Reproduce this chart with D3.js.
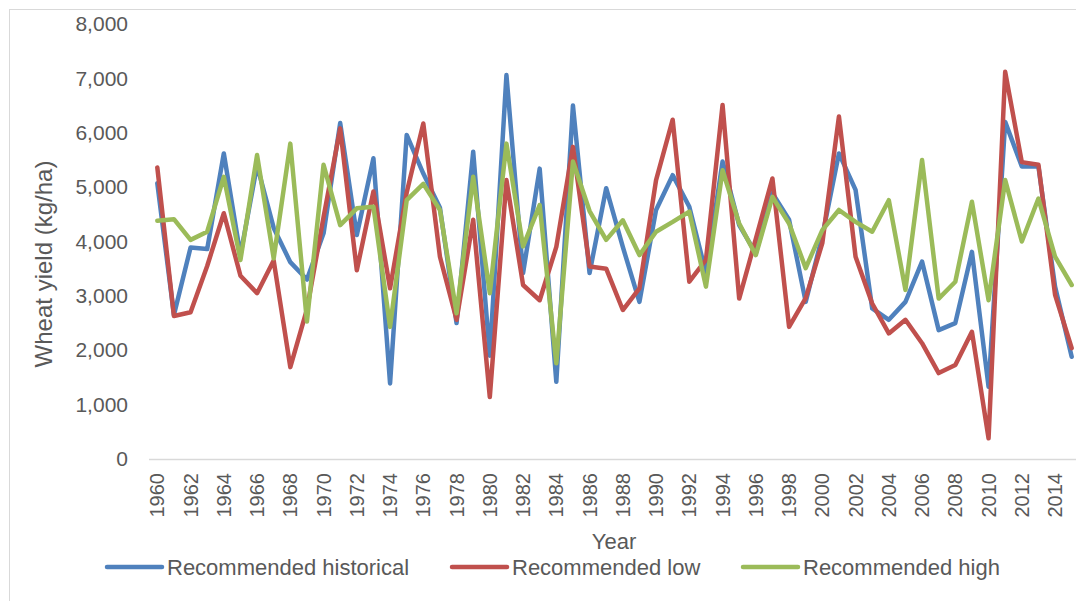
<!DOCTYPE html>
<html>
<head>
<meta charset="utf-8">
<script src="https://cdn.jsdelivr.net/npm/d3@7"></script>
<style>
  html, body { margin: 0; padding: 0; background: #ffffff; }
  svg { display: block; font-family: "Liberation Sans", Arial, sans-serif; }
</style>
</head>
<body>
<svg id="chart" width="1076" height="601"></svg>
<script>
const years = d3.range(1960, 2016);
const historical = [5070, 2650, 3890, 3860, 5620, 3750, 5400, 4250, 3620, 3300,
  4150, 6180, 4120, 5530, 1390, 5960, 5250, 4620, 2500, 5650,
  1900, 7060, 3420, 5340, 1420, 6500, 3420, 4980, 3900, 2890,
  4580, 5220, 4640, 3420, 5470, 4300, 3780, 4890, 4400, 2890,
  4100, 5620, 4950, 2770, 2560, 2890, 3630, 2370, 2500, 3810,
  1330, 6200, 5380, 5380, 3170, 1880];
const low = [5360, 2630, 2700, 3550, 4520, 3370, 3050, 3650, 1690, 2750,
  4450, 6080, 3470, 4920, 3140, 4900, 6170, 3720, 2560, 4400,
  1140, 5130, 3200, 2920, 3900, 5740, 3540, 3500, 2740, 3140,
  5130, 6240, 3260, 3660, 6510, 2950, 4050, 5160, 2430, 2960,
  3970, 6300, 3720, 2860, 2310, 2560, 2130, 1580, 1730, 2340,
  380, 7120, 5460, 5410, 3020, 2040];
const high = [4380, 4410, 4030, 4180, 5190, 3660, 5590, 3690, 5800, 2530,
  5410, 4300, 4610, 4640, 2430, 4760, 5060, 4580, 2680, 5190,
  3050, 5800, 3910, 4670, 1760, 5470, 4560, 4030, 4390, 3750,
  4180, 4360, 4550, 3170, 5310, 4330, 3750, 4820, 4330, 3510,
  4210, 4580, 4360, 4180, 4760, 3110, 5500, 2950, 3260, 4730,
  2920, 5130, 4000, 4790, 3720, 3200];
const seriesNames = ["Recommended historical", "Recommended low", "Recommended high"];
const seriesColors = ["#4f81bd", "#c0504d", "#9bbb59"];
const yTicks = [0, 1000, 2000, 3000, 4000, 5000, 6000, 7000, 8000];
const xTickYears = years.filter(y => (y - 1960) % 2 === 0);

const svg = d3.select("#chart");
const textColor = "#595959";
const fontStack = "'Liberation Sans', Arial, sans-serif";

// chart border (right and bottom edges fall outside the picture)
svg.append("rect").attr("x", 9.5).attr("y", 9.5).attr("width", 1100).attr("height", 620)
  .attr("fill", "none").attr("stroke", "#d9d9d9").attr("stroke-width", 1);

const x = d3.scaleBand().domain(years).range([149, 1080]);
const y = d3.scaleLinear().domain([0, 8000]).range([459, 24]);
const cx = d => x(d) + x.bandwidth() / 2;

// y axis (labels only)
const yAxis = svg.append("g").attr("transform", "translate(128,0)")
  .call(d3.axisLeft(y).tickValues(yTicks).tickSize(0).tickPadding(0).tickFormat(d3.format(",")));
yAxis.select(".domain").remove();
yAxis.selectAll("text").attr("fill", textColor).style("font-size", "21px")
  .style("font-family", fontStack);

// x axis line
svg.append("line").attr("x1", 149).attr("x2", 1080).attr("y1", 459.5).attr("y2", 459.5)
  .attr("stroke", "#d9d9d9").attr("stroke-width", 1.5);

// x axis labels
const xAxis = svg.append("g").attr("transform", "translate(0,459)")
  .call(d3.axisBottom(x).tickValues(xTickYears).tickSize(0).tickPadding(0));
xAxis.select(".domain").remove();
xAxis.selectAll("text")
  .attr("fill", textColor).style("font-size", "20px")
  .style("font-family", fontStack)
  .attr("text-anchor", "end")
  .attr("transform", "rotate(-90)")
  .attr("x", -14).attr("y", 0).attr("dy", "0.35em");

// axis titles
svg.append("text").attr("x", 614).attr("y", 549).attr("text-anchor", "middle")
  .attr("fill", textColor).style("font-size", "22px").text("Year");
svg.append("text").attr("transform", "translate(52,264) rotate(-90)").attr("text-anchor", "middle")
  .attr("fill", textColor).style("font-size", "24px").text("Wheat yield (kg/ha)");

// lines
const data = [historical, low, high];
const line = d3.line().x((d, i) => cx(years[i])).y(d => y(d));
data.forEach((vals, k) => {
  svg.append("path").datum(vals).attr("d", line)
    .attr("fill", "none").attr("stroke", seriesColors[k]).attr("stroke-width", 4.5)
    .attr("stroke-linejoin", "round").attr("stroke-linecap", "round");
});

// legend
const legendX = [107, 452, 743];
seriesNames.forEach((name, k) => {
  const g = svg.append("g").attr("transform", "translate(" + legendX[k] + ",567)");
  g.append("line").attr("x1", 0).attr("x2", 55).attr("y1", 0).attr("y2", 0)
    .attr("stroke", seriesColors[k]).attr("stroke-width", 4.5).attr("stroke-linecap", "round");
  g.append("text").attr("x", 60).attr("y", 0).attr("dy", "0.35em")
    .attr("fill", textColor).style("font-size", "22px").text(name);
});
</script>
</body>
</html>
